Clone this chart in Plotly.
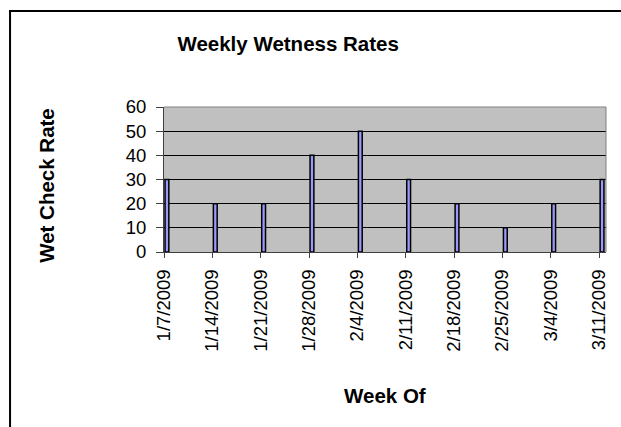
import plotly.graph_objects as go

weeks = ["2009-01-07", "2009-01-14", "2009-01-21", "2009-01-28", "2009-02-04",
         "2009-02-11", "2009-02-18", "2009-02-25", "2009-03-04", "2009-03-11"]
week_labels = ["1/7/2009", "1/14/2009", "1/21/2009", "1/28/2009", "2/4/2009",
               "2/11/2009", "2/18/2009", "2/25/2009", "3/4/2009", "3/11/2009"]
wet_rates = [30, 20, 20, 40, 50, 30, 20, 10, 20, 30]

DAY = 86400000
FONT = "Arial, Liberation Sans, sans-serif"

W, H = 621, 427
L, R, T, B = 164, 609, 107, 252
pw, ph = R - L, B - T

def px_x(x):
    return (x - L) / pw

def px_y(y):
    return (B - y) / ph

fig = go.Figure()
fig.add_trace(go.Bar(
    x=weeks, y=wet_rates,
    width=0.55 * DAY, offset=0.15 * DAY,
    marker=dict(color="#9999FF", line=dict(color="#000000", width=1.5)),
))

fig.update_layout(
    width=W, height=H,
    margin=dict(l=L, r=W - R, t=T, b=H - B, pad=0),
    paper_bgcolor="white", plot_bgcolor="#C0C0C0",
    showlegend=False,
    font=dict(family=FONT, color="black"),
    title=dict(text="<b>Weekly Wetness Rates</b>", font=dict(size=20.5, family=FONT),
               xref="paper", x=px_x(289), xanchor="center",
               yref="container", y=1 - 44 / H, yanchor="middle"),
    xaxis=dict(
        type="date", range=["2009-01-07", "2009-03-12"],
        tickmode="array", tickvals=weeks, ticktext=week_labels,
        tickangle=-90, tickfont=dict(size=18.5, family=FONT),
        ticks="outside", ticklen=5, tickcolor="#404040",
        showgrid=False, showline=True, linecolor="#404040", linewidth=1,
        mirror=False, zeroline=False, ticklabelstandoff=4,
    ),
    yaxis=dict(
        range=[0, 60], dtick=10, tick0=0,
        tickfont=dict(size=18.5, family=FONT),
        ticks="outside", ticklen=7, tickcolor="#404040",
        showgrid=True, gridcolor="black", gridwidth=1,
        showline=True, linecolor="#404040", linewidth=1,
        zeroline=False, ticklabelstandoff=6,
    ),
    shapes=[
        dict(type="rect", xref="paper", yref="paper",
             x0=px_x(9), x1=px_x(660), y0=px_y(11), y1=px_y(460),
             line=dict(color="black", width=2), layer="below"),
        dict(type="line", xref="paper", yref="paper",
             x0=0, x1=1, y0=1, y1=1, line=dict(color="#808080", width=1)),
        dict(type="line", xref="paper", yref="paper",
             x0=1, x1=1, y0=0, y1=1, line=dict(color="#808080", width=1)),
    ],
    annotations=[
        dict(text="<b>Wet Check Rate</b>", xref="paper", yref="paper",
             x=px_x(45), y=px_y(185), textangle=-90, showarrow=False,
             xanchor="center", yanchor="middle", font=dict(size=20.5, family=FONT)),
        dict(text="<b>Week Of</b>", xref="paper", yref="paper",
             x=px_x(387), y=px_y(395), showarrow=False,
             xanchor="center", yanchor="middle", font=dict(size=20.5, family=FONT)),
    ],
)

fig.write_html("out.html", config={"displayModeBar": False},
               post_script="document.body.style.margin='0';document.body.style.overflow='hidden';")
